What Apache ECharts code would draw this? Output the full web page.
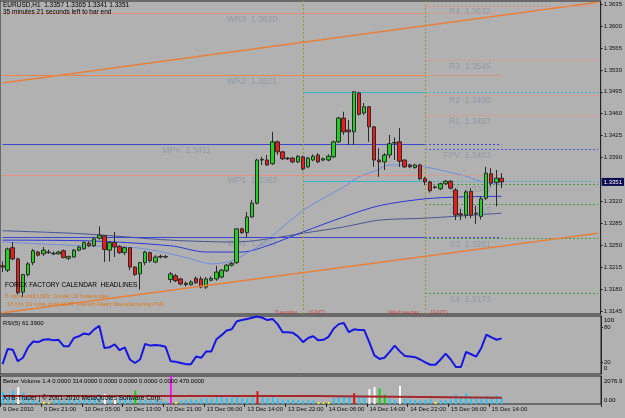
<!DOCTYPE html>
<html>
<head>
<meta charset="utf-8">
<script src="https://cdn.jsdelivr.net/npm/echarts@6/dist/echarts.min.js"></script>
<style>
  html, body { margin: 0; padding: 0; background: #b1b1b1; }
  #main { width: 625px; height: 418px; }
</style>
</head>
<body>
<div id="main"></div>
<script>
// hourly bars, broker time
const sessions = [['9 Dec', 13, 23], ['10 Dec', 0, 22], ['13 Dec', 0, 23], ['14 Dec', 0, 23], ['15 Dec', 0, 23], ['16 Dec', 0, 11]];
const tickLabels = ['9 Dec 2010', '9 Dec 21:00', '10 Dec 05:00', '10 Dec 13:00', '10 Dec 21:00', '13 Dec 06:00',
  '13 Dec 14:00', '13 Dec 22:00', '14 Dec 06:00', '14 Dec 14:00', '14 Dec 22:00', '15 Dec 06:00', '15 Dec 14:00'];
const priceTicks = [1.3145, 1.3180, 1.3215, 1.3250, 1.3285, 1.3320, 1.3390, 1.3425, 1.3460, 1.3495, 1.3530, 1.3565, 1.3600, 1.3635];
const rsiTicks = [20, 80];

const opens = [1.3217, 1.3210, 1.3246, 1.3228, 1.3175, 1.3203, 1.3222, 1.3239, 1.3236, 1.3239,
  1.3237, 1.3236, 1.3241, 1.3229, 1.3231, 1.3242, 1.3244, 1.3253, 1.3249, 1.3261,
  1.3265, 1.3242, 1.3254, 1.3248, 1.3238, 1.3246, 1.3215, 1.3204, 1.3222, 1.3238,
  1.3223, 1.3232, 1.3231, 1.3195, 1.3201, 1.3196, 1.3189, 1.3187, 1.3197, 1.3196,
  1.3183, 1.3194, 1.3196, 1.3199, 1.3209, 1.3218, 1.3222, 1.3276, 1.3270, 1.3295,
  1.3317, 1.3386, 1.3386, 1.3380, 1.3415, 1.3399, 1.3389, 1.3389, 1.3383, 1.3391,
  1.3375, 1.3386, 1.3394, 1.3386, 1.3386, 1.3391, 1.3415, 1.3453, 1.3434, 1.3431,
  1.3493, 1.3461, 1.3471, 1.3439, 1.3386, 1.3383, 1.3394, 1.3414, 1.3415, 1.3386,
  1.3378, 1.3374, 1.3378, 1.3356, 1.3351, 1.3343, 1.3340, 1.3348, 1.3352, 1.3338,
  1.3300, 1.3298, 1.3336, 1.3300, 1.3296, 1.3325, 1.3364, 1.3350, 1.3357];
const highs = [1.3224, 1.3246, 1.3255, 1.3230, 1.3204, 1.3223, 1.3244, 1.3241, 1.3247, 1.3243,
  1.3240, 1.3241, 1.3243, 1.3233, 1.3244, 1.3249, 1.3256, 1.3256, 1.3263, 1.3280,
  1.3266, 1.3256, 1.3271, 1.3250, 1.3248, 1.3247, 1.3216, 1.3223, 1.3241, 1.3240,
  1.3234, 1.3235, 1.3234, 1.3207, 1.3204, 1.3198, 1.3192, 1.3194, 1.3200, 1.3200,
  1.3199, 1.3200, 1.3217, 1.3212, 1.3220, 1.3223, 1.3277, 1.3278, 1.3303, 1.3322,
  1.3388, 1.3391, 1.3394, 1.3431, 1.3417, 1.3400, 1.3391, 1.3391, 1.3394, 1.3393,
  1.3391, 1.3395, 1.3397, 1.3390, 1.3395, 1.3417, 1.3455, 1.3463, 1.3450, 1.3496,
  1.3495, 1.3477, 1.3472, 1.3440, 1.3405, 1.3397, 1.3426, 1.3422, 1.3437, 1.3387,
  1.3380, 1.3380, 1.3380, 1.3359, 1.3353, 1.3345, 1.3350, 1.3354, 1.3354, 1.3341,
  1.3308, 1.3338, 1.3341, 1.3313, 1.3328, 1.3375, 1.3373, 1.3370, 1.3365];
const lows = [1.3207, 1.3207, 1.3226, 1.3171, 1.3167, 1.3200, 1.3218, 1.3232, 1.3233, 1.3236,
  1.3234, 1.3235, 1.3229, 1.3226, 1.3230, 1.3240, 1.3243, 1.3247, 1.3247, 1.3259,
  1.3223, 1.3224, 1.3231, 1.3236, 1.3234, 1.3210, 1.3201, 1.3179, 1.3218, 1.3222,
  1.3221, 1.3229, 1.3229, 1.3190, 1.3191, 1.3186, 1.3184, 1.3185, 1.3188, 1.3181,
  1.3180, 1.3192, 1.3193, 1.3197, 1.3207, 1.3216, 1.3220, 1.3268, 1.3262, 1.3294,
  1.3315, 1.3378, 1.3377, 1.3378, 1.3394, 1.3386, 1.3386, 1.3381, 1.3381, 1.3369,
  1.3373, 1.3384, 1.3381, 1.3384, 1.3384, 1.3389, 1.3413, 1.3426, 1.3410, 1.3410,
  1.3457, 1.3458, 1.3415, 1.3375, 1.3359, 1.3370, 1.3389, 1.3386, 1.3375, 1.3373,
  1.3373, 1.3372, 1.3354, 1.3346, 1.3334, 1.3340, 1.3338, 1.3346, 1.3339, 1.3290,
  1.3290, 1.3293, 1.3293, 1.3284, 1.3291, 1.3322, 1.3344, 1.3312, 1.3341];
const closes = [1.3215, 1.3244, 1.3228, 1.3174, 1.3203, 1.3220, 1.3241, 1.3234, 1.3242, 1.3238,
  1.3236, 1.3239, 1.3230, 1.3232, 1.3242, 1.3247, 1.3254, 1.3249, 1.3260, 1.3266,
  1.3243, 1.3254, 1.3247, 1.3238, 1.3246, 1.3215, 1.3203, 1.3222, 1.3239, 1.3225,
  1.3231, 1.3231, 1.3232, 1.3204, 1.3193, 1.3188, 1.3187, 1.3191, 1.3190, 1.3183,
  1.3196, 1.3197, 1.3207, 1.3210, 1.3218, 1.3221, 1.3276, 1.3270, 1.3295, 1.3317,
  1.3386, 1.3387, 1.3378, 1.3415, 1.3399, 1.3388, 1.3388, 1.3383, 1.3392, 1.3372,
  1.3389, 1.3392, 1.3383, 1.3388, 1.3392, 1.3415, 1.3453, 1.3431, 1.3431, 1.3495,
  1.3459, 1.3471, 1.3439, 1.3386, 1.3383, 1.3394, 1.3412, 1.3413, 1.3384, 1.3375,
  1.3375, 1.3378, 1.3356, 1.3351, 1.3337, 1.3342, 1.3348, 1.3352, 1.3341, 1.3298,
  1.3298, 1.3335, 1.3298, 1.3301, 1.3324, 1.3365, 1.3349, 1.3357, 1.3351];

// moving averages: [bar index, price]
const maFast = [[0, 1.3255], [13, 1.3250], [26, 1.3246], [32, 1.3238], [37, 1.3228], [41, 1.3220], [45, 1.3225],
  [49, 1.3242], [52, 1.3258], [55, 1.3279], [59, 1.3305], [63, 1.3325], [67, 1.3343], [70, 1.3359], [73, 1.3368],
  [76, 1.3378], [80, 1.3378], [83, 1.3375], [87, 1.3368], [91, 1.3360], [94, 1.3352], [98, 1.3347]];
const maMid = [[0, 1.3258], [16, 1.3257], [33, 1.3249], [40, 1.3239], [47, 1.3239], [52, 1.3249], [59, 1.3271],
  [67, 1.3295], [74, 1.3313], [83, 1.3324], [90, 1.3327], [98, 1.3328]];
const maSlow = [[0, 1.3273], [16, 1.3268], [33, 1.3258], [46, 1.3255], [53, 1.3261], [59, 1.3269], [67, 1.3279],
  [74, 1.3290], [83, 1.3293], [98, 1.3301]];
const trendTop = [[0, 1.3509], [117, 1.3638]];
const trendBottom = [[0, 1.3142], [117, 1.3269]];

const weekLevels = [['WR3', 1.3620], ['WR2', 1.3521], ['MPV', 1.3411], ['WP1', 1.3362], ['WS1', 1.3262]];
const dayLevels = [['R4', 1.3632], ['R3', 1.3545], ['R2', 1.3490], ['R1', 1.3457], ['FPV', 1.3403],
  ['S1', 1.3348], ['S2', 1.3315], ['S3', 1.3261], ['S4', 1.3173]];
const prevDayHighLow = [1.3495, 1.3352];
const dayStarts = [['Tuesday', 59], ['Wednesday', 83]];

const rsi = [17, 43, 42, 22, 28, 46, 56, 55, 59, 60, 58, 59, 48, 48, 62, 65, 70, 68, 77, 83,
  45, 46, 51, 41, 46, 25, 19, 25, 52, 49, 50, 49, 47, 22, 21, 19, 17, 17, 30, 28,
  39, 39, 60, 67, 75, 77, 91, 93, 95, 97, 99, 97, 93, 95, 86, 72, 72, 71, 65, 55,
  62, 65, 58, 59, 64, 78, 86, 88, 72, 77, 76, 76, 55, 32, 26, 28, 38, 49, 39, 31,
  30, 29, 25, 20, 16, 16, 25, 35, 25, 12, 12, 38, 34, 30, 45, 68, 63, 59, 61.39];
const volumes = [900, 700, 1000, 1250, 850, 450, 300, 250, 150, 100, 250, 300, 200, 350, 400, 300, 350, 400, 450, 700,
  750, 500, 550, 600, 400, 450, 1000, 350, 300, 250, 300, 250, 200, 2077, 150, 250, 300, 350, 300, 400,
  450, 400, 500, 550, 450, 500, 600, 450, 400, 500, 950, 500, 450, 600, 400, 350, 300, 350, 300, 250,
  300, 250, 150, 100, 150, 450, 550, 600, 500, 800, 600, 550, 1100, 1250, 1150, 700, 400, 300, 1350, 400,
  350, 300, 250, 300, 350, 150, 250, 300, 350, 700, 500, 800, 450, 400, 450, 600, 450, 650, 470];
// N normal, L low, W climax down, R climax up, G churn, M climax churn
const volTypes = ('NNNWNNNNLL' + 'NNNNNNNNNN' + 'WNWNNNGNNN' + 'NNNMLNNNNN' + 'NNNNNNNNNN' +
  'RNNNNNNNNN' + 'NNLLLNNNNR' + 'NNWWGGNNWN' + 'NNNNNLNNNN' + 'NNNNNNNNN').split('');
const volAvg = [[0, 600], [61, 600], [61, 470], [98, 470]];

const categories = [];
sessions.forEach(([d, a, b]) => {
  for (let h = a; h <= b; h++) categories.push(d + ' ' + String(h).padStart(2, '0') + ':00');
});

const FONT = 'Liberation Sans';
const volColors = { N: '#2fc3f2', L: '#f2f21a', W: '#ffffff', R: '#e01010', G: '#10d010', M: '#ff10ff' };
const last = categories.length - 1;
const lastBar = closes.length - 1;
const weekEnd = 83;

const weekColors = { WR3: '#e8907f', WR2: '#e8864a', MPV: '#3a46d0', WP1: '#e8907f', WS1: '#3a46d0' };
const dayColor = (n) => n[0] === 'R' ? '#e8907f' : n[0] === 'S' ? '#3f9e3f' : '#4a56e0';
const dotted = [2, 2];
const seg = (a, b, v, color, type) => [{ coord: [a, v], lineStyle: { color: color, type: type, width: 1 } }, { coord: [b, v] }];

const levelLines = [];
weekLevels.forEach(([n, v]) => {
  levelLines.push(seg(0, weekEnd, v, weekColors[n], 'solid'));
  levelLines.push(seg(weekEnd, lastBar, v, weekColors[n], dotted));
});
dayLevels.forEach(([n, v]) => levelLines.push(seg(weekEnd, last, v, dayColor(n), dotted)));
prevDayHighLow.forEach(v => {
  levelLines.push(seg(dayStarts[0][1], weekEnd, v, '#36b4cc', 'solid'));
  levelLines.push(seg(weekEnd, last, v, '#36b4cc', dotted));
});
dayStarts.forEach(([n, i]) => levelLines.push({ xAxis: i, lineStyle: { color: '#9c9a26', type: dotted, width: 1 } }));

const levelLabels = [];
weekLevels.forEach(([n, v]) => levelLabels.push({ value: [n === 'MPV' ? 41 : 54, v], text: n + '  ' + v.toFixed(4) }));
dayLevels.forEach(([n, v]) => levelLabels.push({ value: [96, v], text: n + '  ' + v.toFixed(4) }));

const dayTexts = [];
dayStarts.forEach(([n, i]) => {
  dayTexts.push({ value: [i, 1.3143], label: { position: 'left', formatter: n } });
  dayTexts.push({ value: [i, 1.3143], label: { position: 'right', formatter: '(GMT)' } });
});

const candles = opens.map((o, i) => [o, closes[i], lows[i], highs[i]]);

const xBase = (gi) => ({
  type: 'category', gridIndex: gi, data: categories, boundaryGap: true,
  axisLine: { show: false }, axisTick: { show: false }, axisLabel: { show: false }, splitLine: { show: false }
});
const xVol = xBase(2);
xVol.axisTick = { show: true, length: 3, lineStyle: { color: '#222' }, interval: (i) => i % 8 === 0 && i <= 96 };
xVol.axisLabel = {
  show: true, interval: 0, align: 'left', margin: 2, fontSize: 6, color: '#111', fontFamily: FONT,
  formatter: (v, i) => (i % 8 === 0 && tickLabels[i / 8]) ? tickLabels[i / 8] : ''
};

const text = (x, y, t, size, color, align) => ({
  type: 'text', x: x, y: y, z: 50,
  style: { text: t, fontSize: size, fontFamily: FONT, fill: color || '#000', verticalAlign: 'middle', align: align || 'left' }
});

const option = {
  backgroundColor: '#b1b1b1',
  animation: false,
  textStyle: { fontFamily: FONT },
  grid: [
    { left: 0, width: 601, top: 1, height: 313, show: true, borderColor: '#222', borderWidth: 1 },
    { left: 0, width: 601, top: 316, height: 58, show: true, borderColor: '#222', borderWidth: 1 },
    { left: 0, width: 601, top: 376, height: 28, show: true, borderColor: '#222', borderWidth: 1 }
  ],
  xAxis: [xBase(0), xBase(1), xVol],
  yAxis: [
    {
      type: 'value', gridIndex: 0, position: 'right', min: 1.3140, max: 1.3640, splitLine: { show: false },
      axisLine: { show: true, lineStyle: { color: '#222' } },
      axisTick: { show: true, length: 2, customValues: priceTicks, lineStyle: { color: '#222' } },
      axisLabel: { customValues: priceTicks, formatter: (v) => v.toFixed(4), fontSize: 6, color: '#111', margin: 3 }
    },
    {
      type: 'value', gridIndex: 1, position: 'right', min: 0, max: 100, splitLine: { show: false },
      axisLine: { show: true, lineStyle: { color: '#222' } },
      axisTick: { show: true, length: 2, customValues: rsiTicks, lineStyle: { color: '#222' } },
      axisLabel: { customValues: rsiTicks, fontSize: 6, color: '#111', margin: 3 }
    },
    {
      type: 'value', gridIndex: 2, position: 'right', min: 0, max: 2077, splitLine: { show: false },
      axisLine: { show: true, lineStyle: { color: '#222' } }, axisTick: { show: false }, axisLabel: { show: false }
    }
  ],
  series: [
    {
      name: 'trend top', type: 'line', xAxisIndex: 0, yAxisIndex: 0, data: trendTop, symbol: 'none', z: 1,
      lineStyle: { color: '#e8803c', width: 1.5 },
      markLine: { symbol: ['none', 'none'], silent: true, precision: 4, label: { show: false }, data: levelLines }
    },
    {
      name: 'trend bottom', type: 'line', xAxisIndex: 0, yAxisIndex: 0, data: trendBottom, symbol: 'none', z: 6,
      lineStyle: { color: '#e8803c', width: 1.5 },
      markLine: {
        symbol: ['none', 'none'], silent: true, precision: 4,
        data: [{ yAxis: closes[lastBar], lineStyle: { color: 'rgba(0,0,0,0)' },
          label: { show: true, position: 'end', distance: 1, formatter: closes[lastBar].toFixed(4),
            backgroundColor: '#0b0b52', color: '#fff', fontSize: 6, padding: [1, 2] } }]
      }
    },
    {
      name: 'levels', type: 'scatter', xAxisIndex: 0, yAxisIndex: 0, data: levelLabels, symbolSize: 1, z: 1,
      itemStyle: { color: 'rgba(0,0,0,0)' },
      label: { show: true, position: 'left', distance: 0, offset: [0, 6], color: '#8896a3', fontSize: 8.5,
        formatter: (p) => p.data.text }
    },
    {
      name: 'days', type: 'scatter', xAxisIndex: 0, yAxisIndex: 0, data: dayTexts, symbolSize: 1, z: 1,
      itemStyle: { color: 'rgba(0,0,0,0)' },
      label: { show: true, distance: 5, color: '#c83434', fontSize: 6 }
    },
    { name: 'MA slow', type: 'line', xAxisIndex: 0, yAxisIndex: 0, data: maSlow, symbol: 'none', smooth: 0.3, z: 2,
      lineStyle: { color: '#4a5592', width: 1 } },
    { name: 'MA mid', type: 'line', xAxisIndex: 0, yAxisIndex: 0, data: maMid, symbol: 'none', smooth: 0.3, z: 2,
      lineStyle: { color: '#2a38d6', width: 1 } },
    { name: 'MA fast', type: 'line', xAxisIndex: 0, yAxisIndex: 0, data: maFast, symbol: 'none', smooth: 0.3, z: 2,
      lineStyle: { color: '#6e8ee0', width: 1 } },
    {
      name: 'EURUSD', type: 'candlestick', xAxisIndex: 0, yAxisIndex: 0, data: candles, barWidth: 4, z: 5,
      itemStyle: { color: '#22d022', color0: '#e81e1a', borderColor: '#2a2a2a', borderColor0: '#2a2a2a', borderWidth: 1 }
    },
    { name: 'RSI(5)', type: 'line', xAxisIndex: 1, yAxisIndex: 1, data: rsi, symbol: 'none',
      lineStyle: { color: '#1616e4', width: 2 } },
    {
      name: 'Better Volume', type: 'bar', xAxisIndex: 2, yAxisIndex: 2, barWidth: 2,
      data: volumes.map((v, i) => ({ value: v, itemStyle: { color: volColors[volTypes[i]] } }))
    },
    { name: 'avg', type: 'line', xAxisIndex: 2, yAxisIndex: 2, data: volAvg, symbol: 'none', z: 3,
      lineStyle: { color: '#a4282c', width: 2 } }
  ],
  graphic: [
    text(3, 5, 'EURUSD,H1  1.3357 1.3365 1.3341 1.3351', 6.5),
    text(3, 12.5, '35 minutes 21 seconds left to bar end', 6.5),
    text(5, 285, 'FOREX FACTORY CALENDAR  HEADLINES', 6.5),
    text(5, 296, '5 mins until USD: Crude Oil Inventories', 6, '#e07a1e'),
    text(7, 304.5, '16 hrs 33 mins until EUR: French Flash Manufacturing PMI', 6, '#e07a1e'),
    text(3, 323, 'RSI(5) 61.3900', 6),
    text(3, 381, 'Better Volume 1.4 0.0000 314.0000 0.0000 0.0000 0.0000 0.0000 470.0000', 6),
    text(3, 398, 'XTB-Trader | \u00a9 2001-2010 MetaQuotes Software Corp.', 6.5),
    text(604, 320.5, '100', 6),
    text(604, 368, '0', 6),
    text(604, 381, '2076.9', 6),
    text(604, 400, '0.00', 6)
  ]
};

const chart = echarts.init(document.getElementById('main'));
chart.setOption(option);
</script>
</body>
</html>
